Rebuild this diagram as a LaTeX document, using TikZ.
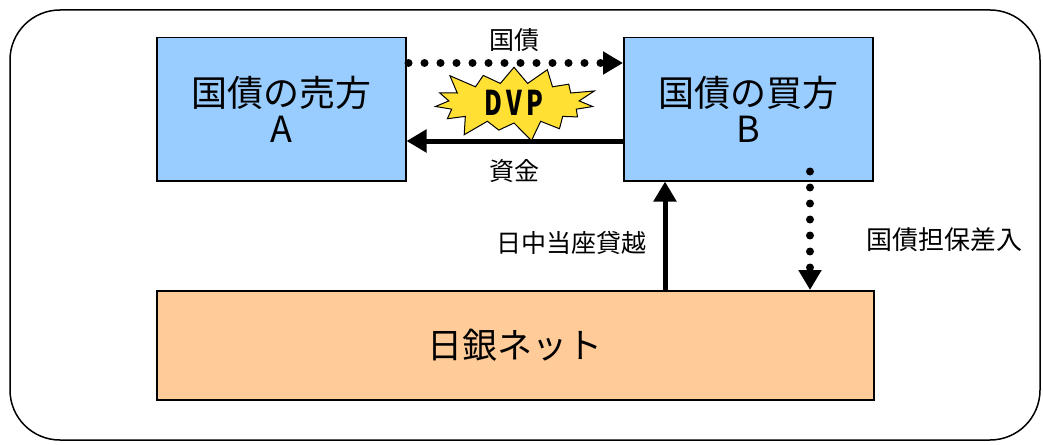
\documentclass[tikz,border=0pt]{standalone}
\usepackage{graphicx}
\usepackage{fontspec}
\setmainfont{Noto Sans CJK JP}
\usetikzlibrary{shapes.symbols,arrows.meta}
\definecolor{boxblue}{HTML}{99CCFF}
\definecolor{boxorange}{HTML}{FFCC99}
\definecolor{burst}{HTML}{FFE033}
\begin{document}
\begin{tikzpicture}[x=1pt,y=-1pt,
  party/.style={draw=black,line width=1.5pt,fill=boxblue,minimum width=249pt,minimum height=143pt,anchor=north west,inner sep=0pt,align=center,font=\fontsize{36}{42}\selectfont},
  lbl/.style={font=\fontsize{25}{28}\selectfont,inner sep=0pt},
  dotarrow/.style={line width=8pt,dash pattern=on 0pt off 16pt,line cap=round,-{Triangle[length=20pt,width=22pt,line cap=butt]}},
  thickarrow/.style={line width=5pt,-{Triangle[length=20pt,width=22pt]}}]
\useasboundingbox (0,0) rectangle (1043,444);
\draw[line width=1.5pt,rounded corners=50pt] (10,10) rectangle (1040,440);
\node[party] (A) at (156,37) {国債の売方\\[-6pt]A};
\node[party] (B) at (623,37) {国債の買方\\[-6pt]B};
\node[draw=black,line width=1.5pt,fill=boxorange,minimum width=717pt,minimum height=109pt,anchor=north west,inner sep=0pt,font=\fontsize{35}{40}\selectfont] (N) at (156,290) {日銀ネット};
\draw[dotarrow] ([yshift=-26pt,xshift=2pt]A.north east) -- ([yshift=-26pt]B.north west);
\draw[thickarrow] ([yshift=-104pt]B.north west) -- ([yshift=-104pt]A.north east);
\node[lbl] (lk) at (514,40) {国債};
\node[lbl] (ls) at (514,171) {資金};
\node[starburst,starburst points=15,starburst point height=22pt,draw=black,line width=1pt,fill=burst,minimum width=175pt,minimum height=84pt,inner sep=0pt,font=\bfseries\fontsize{34}{36}\selectfont] (dvp) at (514,103) {\scalebox{0.72}[1]{D\,V\,P}};
\draw[thickarrow] (N.north west -| 665,0) -- (B.south west -| 665,0);
\draw[dotarrow] ([yshift=10pt]B.south west -| 810,0) -- (N.north west -| 810,0);
\node[lbl] (lo) at (571,243) {日中当座貸越};
\node[lbl,font=\fontsize{26}{28}\selectfont] (lt) at (944,240) {国債担保差入};
\end{tikzpicture}
\end{document}
